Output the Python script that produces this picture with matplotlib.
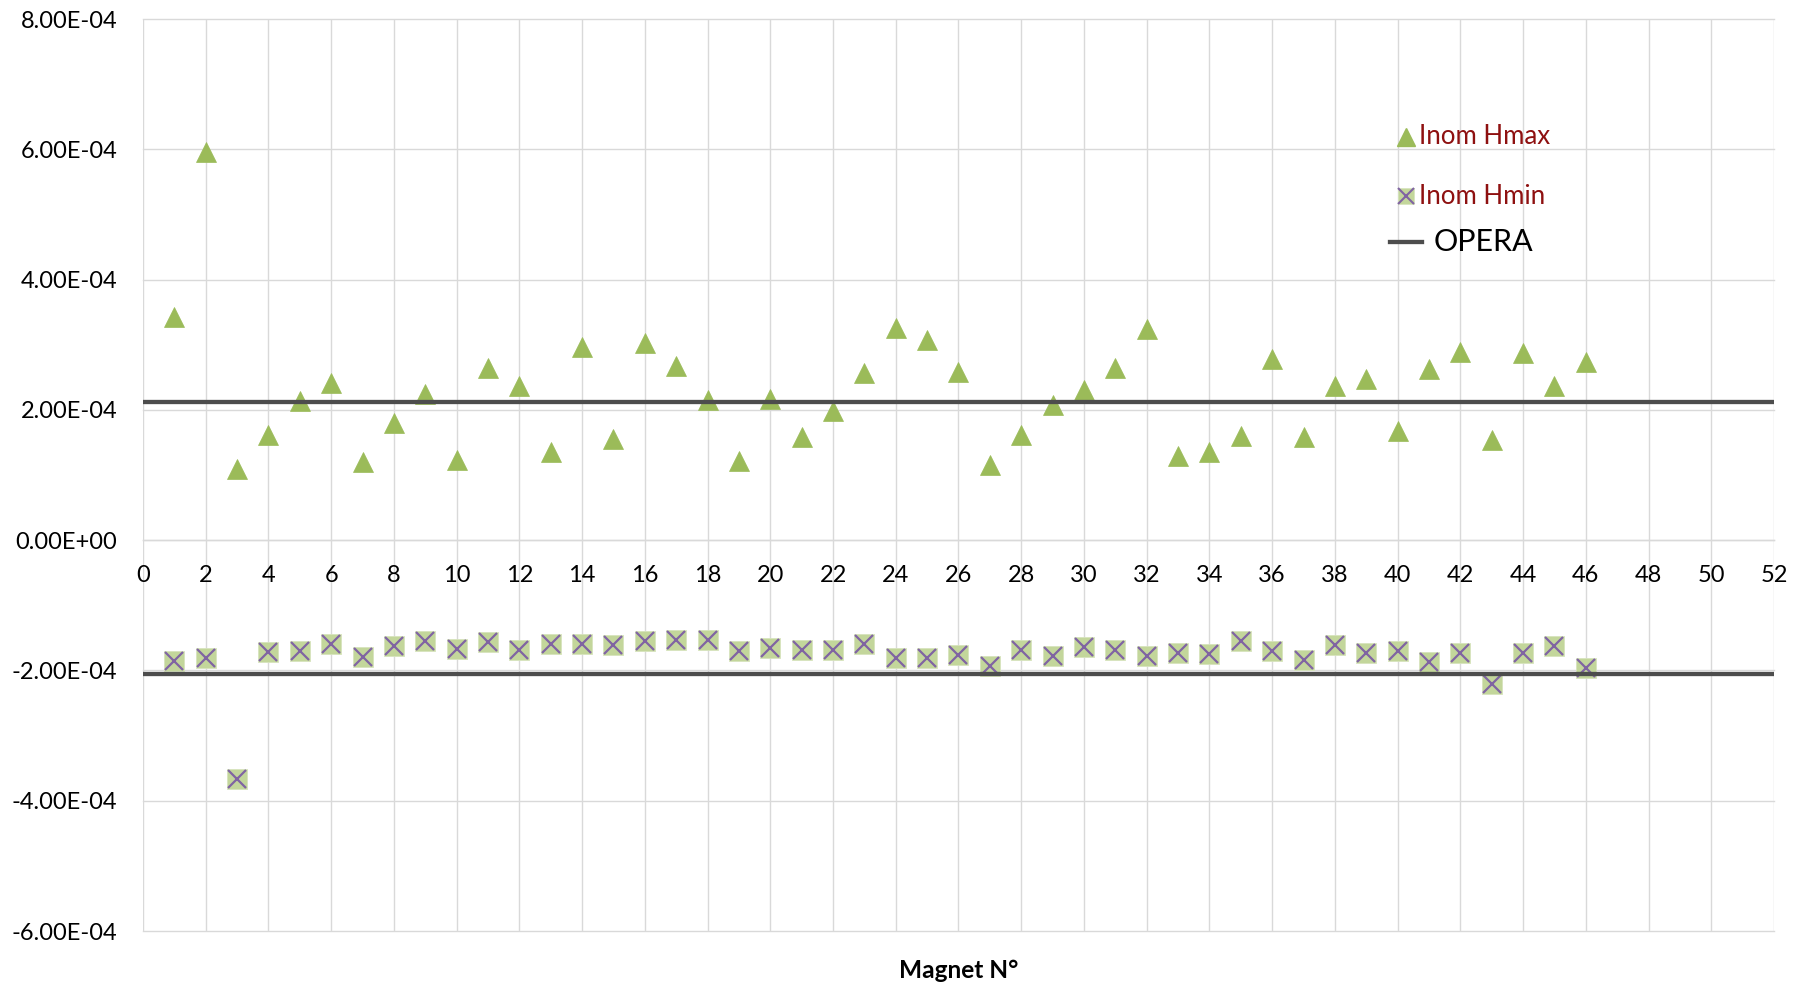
import matplotlib
matplotlib.use("Agg")
import matplotlib.pyplot as plt
from matplotlib.ticker import FuncFormatter

# Magnet index and measured values
magnet = list(range(1, 47))

inom_hmax = [
    3.43e-4, 5.96e-4, 1.085e-4, 1.62e-4, 2.14e-4, 2.41e-4, 1.20e-4, 1.80e-4,
    2.24e-4, 1.23e-4, 2.64e-4, 2.37e-4, 1.36e-4, 2.96e-4, 1.55e-4, 3.03e-4,
    2.67e-4, 2.15e-4, 1.21e-4, 2.17e-4, 1.58e-4, 1.985e-4, 2.57e-4, 3.26e-4,
    3.07e-4, 2.58e-4, 1.15e-4, 1.62e-4, 2.07e-4, 2.30e-4, 2.635e-4, 3.24e-4,
    1.29e-4, 1.36e-4, 1.60e-4, 2.775e-4, 1.58e-4, 2.37e-4, 2.48e-4, 1.68e-4,
    2.625e-4, 2.89e-4, 1.54e-4, 2.88e-4, 2.37e-4, 2.735e-4,
]

inom_hmin = [
    -1.857e-4, -1.804e-4, -3.672e-4, -1.714e-4, -1.704e-4, -1.601e-4, -1.801e-4, -1.622e-4,
    -1.555e-4, -1.678e-4, -1.571e-4, -1.683e-4, -1.601e-4, -1.591e-4, -1.604e-4, -1.553e-4,
    -1.530e-4, -1.538e-4, -1.701e-4, -1.661e-4, -1.686e-4, -1.681e-4, -1.596e-4, -1.816e-4,
    -1.804e-4, -1.768e-4, -1.931e-4, -1.683e-4, -1.772e-4, -1.648e-4, -1.683e-4, -1.772e-4,
    -1.737e-4, -1.754e-4, -1.542e-4, -1.701e-4, -1.843e-4, -1.613e-4, -1.737e-4, -1.701e-4,
    -1.878e-4, -1.737e-4, -2.214e-4, -1.737e-4, -1.630e-4, -1.966e-4,
]

# OPERA reference levels
opera_x = [0, 52]
opera_hi = [2.12e-4, 2.12e-4]
opera_lo = [-2.05e-4, -2.05e-4]

x_ticks = list(range(0, 53, 2))
y_ticks = [-6e-4, -4e-4, -2e-4, 0.0, 2e-4, 4e-4, 6e-4, 8e-4]

GREEN = "#9BBB59"
LIGHT_GREEN = "#C3D69B"
PURPLE = "#8064A2"
OPERA_C = "#4D4D4D"
GRID_C = "#D9D9D9"
LEGEND_RED = "#8E1010"

plt.rcParams["font.family"] = ["Lato", "DejaVu Sans"]

fig = plt.figure(figsize=(18.06, 9.86), dpi=100)
left, bottom, width, height = 0.07918, 0.05578, 0.90310, 0.92495
ax = fig.add_axes([left, bottom, width, height])

ax.set_xlim(0, 52)
ax.set_ylim(-6e-4, 8e-4)
ax.set_xticks(x_ticks)
ax.set_yticks(y_ticks)
ax.yaxis.set_major_formatter(FuncFormatter(lambda v, _: f"{v:.2E}"))

ax.grid(True, color=GRID_C, linewidth=1.0, zorder=0)
ax.set_axisbelow(True)
for gl in ax.get_xgridlines() + ax.get_ygridlines():
    gl.set_clip_on(False)

for side in ("top", "right", "left"):
    ax.spines[side].set_visible(False)
ax.spines["bottom"].set_position(("data", 0))
ax.spines["bottom"].set_color(GRID_C)
ax.spines["bottom"].set_linewidth(1.0)

ax.tick_params(axis="both", length=0, labelsize=17, labelcolor="black")
ax.tick_params(axis="x", pad=18)
ax.tick_params(axis="y", pad=18.7)

# Data series
ax.plot(magnet, inom_hmax, ls="none", marker="^", ms=14.9,
        mfc=GREEN, mec=GREEN, mew=0.5, zorder=3)
ax.plot(magnet, inom_hmin, ls="none", marker="s", ms=14.2,
        mfc=LIGHT_GREEN, mec="#D7E4BD", mew=0.6, zorder=3)
ax.plot(magnet, inom_hmin, ls="none", marker="x", ms=12.8,
        mec=PURPLE, mew=1.6, zorder=3.1)

ax.plot(opera_x, opera_hi, color=OPERA_C, lw=3.1, zorder=4)
ax.plot(opera_x, opera_lo, color=OPERA_C, lw=3.1, zorder=4)

# Legend
tr = ax.transAxes
ax.plot([0.7744], [0.8709], transform=tr, ls="none", marker="^", ms=12.8,
        mfc=GREEN, mec=GREEN, zorder=5)
ax.text(0.7822, 0.8709, "Inom Hmax", transform=tr, ha="left", va="center",
        fontsize=18.6, color=LEGEND_RED, zorder=5)
ax.plot([0.7744], [0.8057], transform=tr, ls="none", marker="s", ms=12.2,
        mfc=LIGHT_GREEN, mec="#D7E4BD", mew=0.5, zorder=5)
ax.plot([0.7744], [0.8057], transform=tr, ls="none", marker="x", ms=11,
        mec=PURPLE, mew=1.5, zorder=5.1)
ax.text(0.7822, 0.8057, "Inom Hmin", transform=tr, ha="left", va="center",
        fontsize=18.6, color=LEGEND_RED, zorder=5)
ax.plot([0.7645, 0.7840], [0.7558, 0.7558], transform=tr, color=OPERA_C,
        lw=3.1, zorder=5)
ax.text(0.7914, 0.7558, "OPERA", transform=tr, ha="left", va="center",
        fontsize=22, color="black", zorder=5)

fig.text(left + width / 2, 1 - 971 / 986, "Magnet N°", ha="center", va="center",
         fontsize=17.6, fontweight="bold")

fig.savefig("out.png", dpi=100, facecolor="white")
